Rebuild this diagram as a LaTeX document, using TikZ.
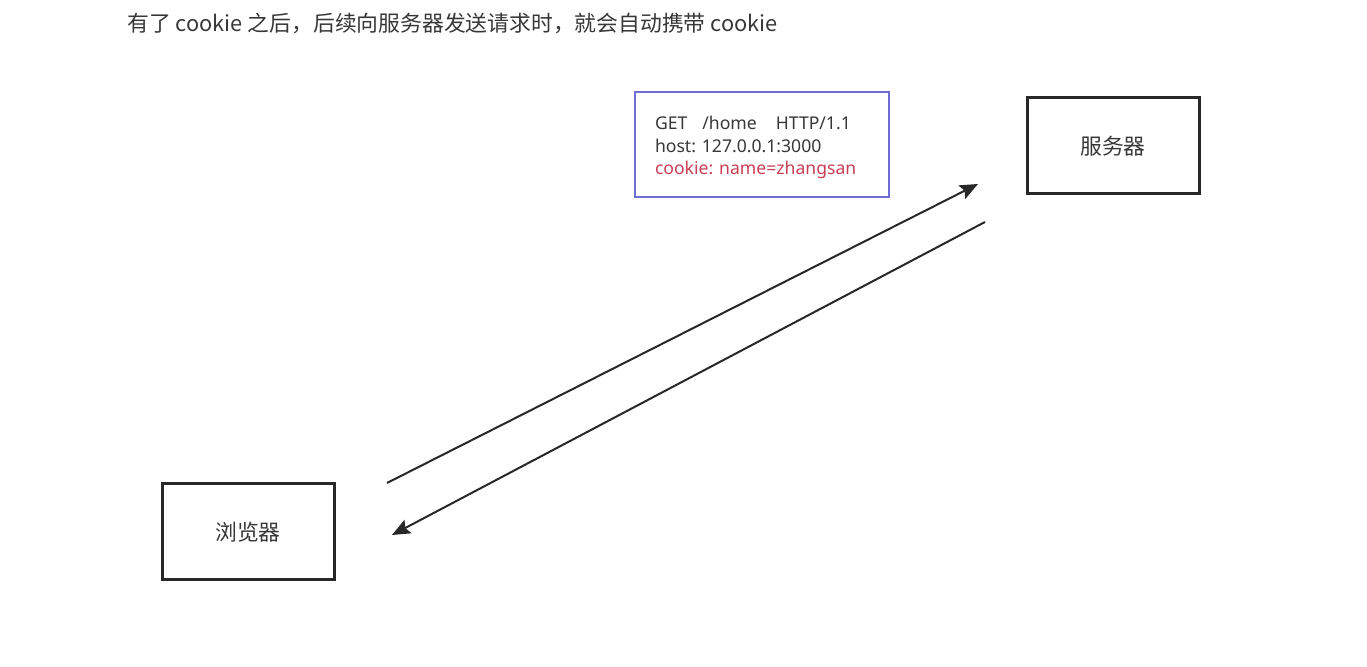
\documentclass[tikz,border=0pt]{standalone}
\usepackage{fontspec}
\setmainfont{Noto Sans CJK SC}
\newfontfamily\latinfont{Noto Sans}
\usetikzlibrary{arrows.meta}
\definecolor{boxblue}{RGB}{110,110,210}
\definecolor{cookiered}{RGB}{200,62,84}
\definecolor{inkgray}{RGB}{40,40,40}
\definecolor{textgray}{RGB}{55,55,55}
\frenchspacing
\tikzset{
  hostbox/.style={draw=inkgray,line width=1.5pt,minimum width=86pt,minimum height=48pt,
    text=textgray,font=\fontsize{10.9}{13}\selectfont},
  reqbox/.style={draw=boxblue,line width=1pt,minimum width=127pt,minimum height=52.5pt,
    inner xsep=10pt,text width=107pt,align=left,text=textgray,
    font=\latinfont\fontsize{8.8}{11.25}\selectfont},
  flow/.style={draw=inkgray,line width=1pt,-{Stealth[length=9pt,width=7.5pt,inset=1.5pt]}}
}
\begin{document}
\begin{tikzpicture}[x=0.5pt,y=-0.5pt]
            \useasboundingbox (0,0) rectangle (1367,667);
            \node[anchor=west,text=textgray,font=\fontsize{10.9}{13}\selectfont,inner sep=0pt] (title) at (127,23)
                {有了 cookie 之后，后续向服务器发送请求时，就会自动携带 cookie};
            \node[reqbox] (request) at (762,144.5)
                {\rule{0pt}{10pt}GET\hspace{7.5pt}/home\hspace{9.5pt}HTTP/1.1\\
                 host: 127.0.0.1:3000\\
                 \textcolor{cookiered}{cookie: name=zhangsan}};
            \node[hostbox] (server) at (1113,146) {服务器};
            \node[hostbox] (browser) at (248,532) {浏览器};
            % request goes up, response comes back
            \coordinate (sendstart) at (387,483);
            \coordinate (sendend) at (978,184);
            \coordinate (backstart) at (985,222);
            \coordinate (backend) at (392,535);
            \draw[flow] (sendstart) -- (sendend);
            \draw[flow] (backstart) -- (backend);
        \end{tikzpicture}
\end{document}
